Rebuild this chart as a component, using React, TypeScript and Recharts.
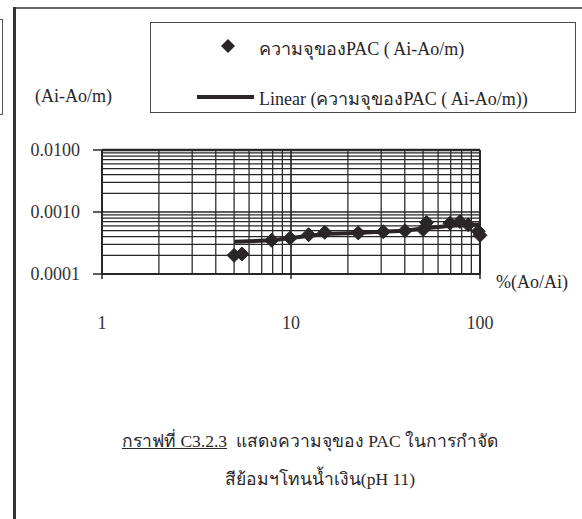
import React from 'react';
import { ScatterChart, Scatter, XAxis, YAxis, ReferenceLine, Legend } from 'recharts';

// Measured capacity of PAC against percentage remaining (Ao/Ai)
const removalPct = [5.0, 5.5, 7.9, 9.9, 12.4, 15.1, 22.7, 30.8, 40.1, 50.0, 52.2, 69.4, 78.3, 86.7, 98, 100];
const capacity = [0.0002, 0.00021, 0.00035, 0.00038, 0.00043, 0.00047, 0.00046, 0.00048, 0.0005, 0.00052, 0.00068, 0.00066, 0.0007, 0.00062, 0.00049, 0.00042];

// Trend line (Linear) as drawn across the log axes
const trendPct = [5.0, 8, 10, 15, 22, 30, 40, 50, 70, 100];
const trendCapacity = [0.00033, 0.00035, 0.00038, 0.00044, 0.00046, 0.00048, 0.0005, 0.00054, 0.0006, 0.00063];

const xTicks = [1, 10, 100];
const yTicks = [0.0001, 0.001, 0.01];
const xGrid = [2, 3, 4, 5, 6, 7, 8, 9, 10, 20, 30, 40, 50, 60, 70, 80, 90];
const yGrid = [0.0002, 0.0003, 0.0004, 0.0005, 0.0006, 0.0007, 0.0008, 0.0009, 0.001,
  0.002, 0.003, 0.004, 0.005, 0.006, 0.007, 0.008, 0.009];

const seriesName = 'ความจุของPAC ( Ai-Ao/m)';
const trendName = 'Linear (ความจุของPAC ( Ai-Ao/m))';

const points = removalPct.map((x, i) => ({ x, y: capacity[i] }));
const trend = trendPct.map((x, i) => ({ x, y: trendCapacity[i] }));

const INK = '#2a2628';
const SERIF = '"Liberation Serif", "Times New Roman", serif';

const Diamond = (props: any) => {
  const { cx, cy } = props;
  if (cx == null || cy == null) return null;
  const r = 7;
  return (
    <polygon
      points={`${cx},${cy - r} ${cx + r},${cy} ${cx},${cy + r} ${cx - r},${cy}`}
      fill={INK}
      stroke={INK}
      strokeWidth={1}
    />
  );
};

const NoDot = () => null;

const LegendBox = () => (
  <div
    style={{
      position: 'absolute',
      left: 150,
      top: 22,
      width: 426,
      height: 91,
      boxSizing: 'border-box',
      border: '1.5px solid #4a4a4a',
      fontFamily: SERIF,
      fontSize: 18,
      color: INK,
    }}
  >
    <svg width={20} height={20} style={{ position: 'absolute', left: 67, top: 13 }}>
      <polygon points="10,3 17,10 10,17 3,10" fill={INK} />
    </svg>
    <div style={{ position: 'absolute', left: 108, top: 11, whiteSpace: 'nowrap' }}>{seriesName}</div>
    <div style={{ position: 'absolute', left: 46, top: 72, width: 57, height: 4, background: INK }} />
    <div style={{ position: 'absolute', left: 108, top: 61, whiteSpace: 'nowrap' }}>{trendName}</div>
  </div>
);

const tickStyle = { fontFamily: SERIF, fontSize: 18, fill: '#333' };

export default function App() {
  return (
    <div style={{ position: 'absolute', left: 0, top: 0, width: 582, height: 519, background: '#fff', overflow: 'hidden' }}>
      {/* page frame */}
      <div style={{ position: 'absolute', left: 15, top: 7, width: 567, height: 2, background: '#666' }} />
      <div style={{ position: 'absolute', left: 13, top: 7, width: 3, height: 512, background: '#333' }} />
      <div style={{ position: 'absolute', left: 0, top: 19, width: 3, height: 96, boxSizing: 'border-box', borderTop: '1px solid #555', borderRight: '1.5px solid #555', borderBottom: '1px solid #555' }} />

      <div style={{ position: 'absolute', left: 0, top: 0 }}>
        <ScatterChart width={582} height={519} margin={{ top: 150, right: 102, bottom: 185, left: 42 }}>
          <XAxis
            type="number"
            dataKey="x"
            scale="log"
            domain={[1, 100]}
            ticks={xTicks}
            tickFormatter={(v: number) => String(v)}
            height={60}
            axisLine={{ stroke: INK, strokeWidth: 2 }}
            tickLine={{ stroke: INK, strokeWidth: 1.5 }}
            tickSize={5}
            tickMargin={37}
            tick={tickStyle}
          />
          <YAxis
            type="number"
            dataKey="y"
            scale="log"
            domain={[0.0001, 0.01]}
            ticks={yTicks}
            tickFormatter={(v: number) => v.toFixed(4)}
            width={60}
            axisLine={{ stroke: INK, strokeWidth: 2 }}
            tickLine={{ stroke: INK, strokeWidth: 1.5 }}
            tickSize={9}
            tickMargin={13}
            tick={tickStyle}
          />
          {xGrid.map((v) => (
            <ReferenceLine key={`gx${v}`} x={v} stroke="#262626" strokeWidth={v === 10 ? 1.7 : 1.25} />
          ))}
          {yGrid.map((v) => (
            <ReferenceLine key={`gy${v}`} y={v} stroke="#262626" strokeWidth={v === 0.001 ? 1.7 : 1.25} />
          ))}
          <ReferenceLine y={0.01} stroke={INK} strokeWidth={2.5} />
          <ReferenceLine x={100} stroke={INK} strokeWidth={2} />
          <Legend layout="horizontal" verticalAlign="middle" align="center" content={() => null} />
          <Scatter
            name={trendName}
            data={trend}
            line={{ stroke: INK, strokeWidth: 4 }}
            shape={NoDot}
            isAnimationActive={false}
          />
          <Scatter name={seriesName} data={points} shape={Diamond} isAnimationActive={false} />
        </ScatterChart>
      </div>

      <LegendBox />

      <div style={{ position: 'absolute', left: 35, top: 86, fontFamily: SERIF, fontSize: 18, color: INK }}>(Ai-Ao/m)</div>
      <div style={{ position: 'absolute', left: 496, top: 272, fontFamily: SERIF, fontSize: 18, color: INK }}>%(Ao/Ai)</div>

      <div style={{ position: 'absolute', left: 0, top: 427, width: 620, textAlign: 'center', fontFamily: SERIF, fontSize: 17.5, color: INK, whiteSpace: 'nowrap' }}>
        <span style={{ textDecoration: 'underline' }}>กราฟที่ C3.2.3</span>&nbsp;&nbsp;แสดงความจุของ PAC ในการกำจัด
      </div>
      <div style={{ position: 'absolute', left: 0, top: 465, width: 640, textAlign: 'center', fontFamily: SERIF, fontSize: 17.5, color: INK, whiteSpace: 'nowrap' }}>
        สีย้อมฯโทนน้ำเงิน(pH 11)
      </div>
    </div>
  );
}
